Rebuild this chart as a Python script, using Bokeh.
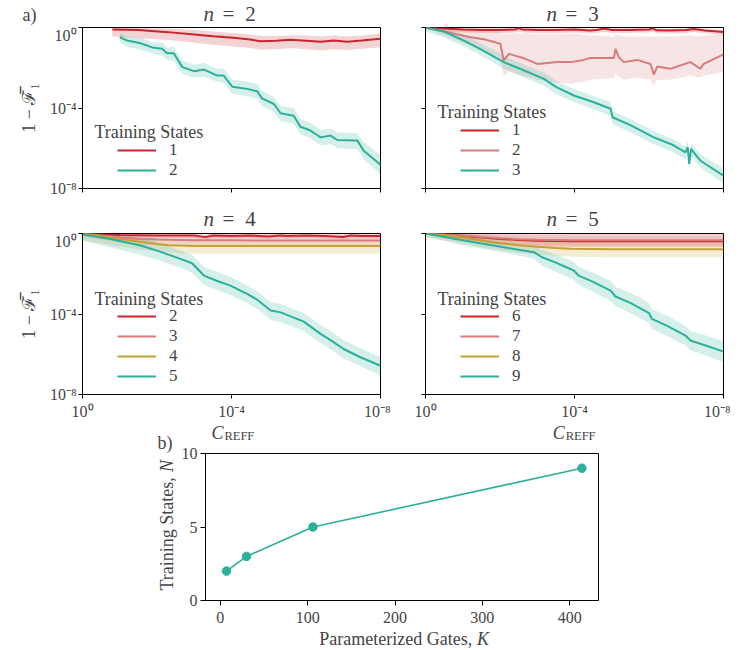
import numpy as np
from bokeh.plotting import figure
from bokeh.models import (Range1d, FixedTicker, CustomJSTickFormatter, Label,
                          Legend, LegendItem)
from bokeh.layouts import column, row
from bokeh.embed import file_html
from bokeh.resources import INLINE

FONT = "Liberation Serif"
RED = "#c9252c"
PINK = "#d77c7d"
GOLD = "#c89f33"
TEAL = "#2bb19a"

# ---------------- data (log10 of C_REFF and of 1 - F) ----------------
# n = 2
n2_s1_x = [-0.8, -1.5, -2.3, -3.0, -3.5, -4.05, -4.5, -4.78, -5.2, -5.58, -6.0, -6.4, -6.74, -7.1, -7.5, -8.0]
n2_s1_y = [-0.10, -0.13, -0.23, -0.35, -0.44, -0.51, -0.60, -0.68, -0.66, -0.61, -0.66, -0.71, -0.65, -0.71, -0.65, -0.56]
n2_s1_lo = [-0.45, -0.52, -0.62, -0.76, -0.86, -0.94, -1.02, -1.10, -1.08, -1.02, -1.08, -1.14, -1.08, -1.12, -1.06, -0.98]
n2_s1_hi = [0.0, -0.02, -0.05, -0.12, -0.20, -0.27, -0.35, -0.42, -0.42, -0.38, -0.40, -0.45, -0.40, -0.45, -0.40, -0.30]

n2_s2_x = [-1.0, -1.2, -1.56, -1.91, -2.14, -2.27, -2.45, -2.68, -2.99, -3.26, -3.62, -3.79, -4.02, -4.42,
           -4.69, -4.82, -5.14, -5.32, -5.67, -5.85, -6.12, -6.26, -6.39, -6.66, -6.84, -7.38, -7.55, -8.0]
n2_s2_y = [-0.48, -0.65, -0.78, -1.01, -1.06, -1.28, -1.28, -1.97, -2.17, -2.09, -2.39, -2.39, -2.94, -3.05,
           -3.17, -3.52, -3.80, -4.26, -4.38, -4.93, -5.12, -5.29, -5.46, -5.37, -5.59, -5.62, -6.12, -6.82]
n2_s2_lo = [-0.75, -0.95, -1.1, -1.3, -1.4, -1.6, -1.65, -2.3, -2.5, -2.45, -2.7, -2.75, -3.3, -3.4,
            -3.55, -3.9, -4.2, -4.65, -4.8, -5.3, -5.5, -5.7, -5.85, -5.8, -6.0, -6.05, -6.55, -7.3]
n2_s2_hi = [-0.3, -0.45, -0.5, -0.75, -0.75, -1.0, -0.95, -1.65, -1.85, -1.75, -2.05, -2.05, -2.6, -2.7,
            -2.8, -3.15, -3.45, -3.9, -4.0, -4.55, -4.75, -4.9, -5.1, -5.0, -5.2, -5.25, -5.7, -6.35]

# n = 3
n3_s1_x = [0, -0.5, -1.0, -1.5, -2.0, -2.4, -2.5, -2.6, -3.0, -3.5, -4.0, -4.4, -4.6, -4.8, -5.0, -5.5,
           -6.0, -6.1, -6.2, -6.5, -7.0, -7.2, -7.5, -8.0]
n3_s1_y = [0, -0.05, -0.10, -0.12, -0.12, -0.10, -0.03, -0.10, -0.12, -0.12, -0.10, -0.15, -0.12, -0.05,
           -0.12, -0.12, -0.10, -0.04, -0.14, -0.15, -0.12, -0.07, -0.15, -0.22]
n3_s1_lo = [0, -0.18, -0.25, -0.27, -0.27, -0.25, -0.2, -0.25, -0.27, -0.27, -0.25, -0.3, -0.27, -0.22,
            -0.27, -0.27, -0.25, -0.2, -0.29, -0.3, -0.27, -0.22, -0.3, -0.36]
n3_s1_hi = [0, 0, 0, -0.03, -0.04, -0.02, 0, -0.02, -0.04, -0.04, -0.02, -0.06, -0.04, 0,
            -0.04, -0.04, -0.02, 0, -0.05, -0.06, -0.04, 0, -0.06, -0.12]

n3_s2_x = [0, -0.5, -1.21, -1.6, -2.01, -2.1, -2.24, -2.6, -3.0, -3.54, -3.9, -4.25, -4.43, -5.06, -5.1,
           -5.19, -5.32, -5.68, -6.04, -6.13, -6.22, -6.58, -7.11, -7.38, -7.47, -8.0]
n3_s2_y = [0, -0.2, -0.48, -0.6, -0.81, -1.64, -1.31, -1.5, -1.81, -1.72, -1.72, -1.61, -1.51, -1.51, -1.06,
           -1.47, -1.72, -1.61, -1.81, -2.34, -1.94, -2.05, -1.72, -2.05, -1.81, -1.34]
n3_s2_lo = [0, -0.4, -0.9, -1.2, -1.5, -2.4, -2.2, -2.4, -2.6, -2.75, -2.8, -2.7, -2.6, -2.5, -2.3,
            -2.45, -2.6, -2.5, -2.6, -2.9, -2.6, -2.6, -2.4, -2.5, -2.4, -2.2]
n3_s2_hi = [0, -0.05, -0.1, -0.15, -0.2, -0.3, -0.3, -0.3, -0.3, -0.3, -0.3, -0.35, -0.4, -0.45, -0.3,
            -0.4, -0.45, -0.45, -0.45, -0.45, -0.45, -0.45, -0.4, -0.45, -0.4, -0.3]

n3_s3_x = [0, -0.5, -1.03, -1.5, -2.1, -2.6, -3.18, -3.5, -3.98, -4.5, -4.97, -5.02, -5.5, -6.13, -6.6,
           -6.98, -7.04, -7.08, -7.13, -7.2, -7.38, -8.0]
n3_s3_y = [0, -0.2, -0.65, -1.1, -1.72, -2.1, -2.55, -2.95, -3.38, -3.7, -4.04, -4.46, -4.85, -5.46, -5.8,
           -6.2, -5.95, -6.78, -6.03, -6.2, -6.62, -7.36]
n3_s3_lo = [-0.2, -0.5, -0.95, -1.4, -2.05, -2.45, -2.9, -3.3, -3.7, -4.05, -4.4, -4.8, -5.2, -5.8, -6.15,
            -6.55, -6.3, -7.1, -6.4, -6.55, -6.95, -7.75]
n3_s3_hi = [0, 0, -0.35, -0.8, -1.4, -1.8, -2.25, -2.65, -3.05, -3.4, -3.7, -4.15, -4.55, -5.15, -5.5,
            -5.9, -5.65, -6.45, -5.7, -5.9, -6.3, -7.0]

# n = 4
n4_s1_x = [0, -1, -2, -3, -3.3, -3.5, -4, -4.5, -5, -5.3, -5.5, -6, -6.5, -7, -7.2, -7.5, -8]
n4_s1_y = [0, -0.08, -0.1, -0.1, -0.18, -0.1, -0.12, -0.1, -0.15, -0.1, -0.12, -0.1, -0.12, -0.17, -0.1, -0.12, -0.12]
n4_s1_lo = [-0.1, -0.23, -0.25, -0.25, -0.33, -0.25, -0.27, -0.25, -0.3, -0.25, -0.27, -0.25, -0.27, -0.32, -0.25, -0.27, -0.27]
n4_s1_hi = [0, 0, 0, 0, -0.06, 0, 0, 0, -0.03, 0, 0, 0, 0, -0.05, 0, 0, 0]

n4_s2_x = [0, -0.5, -1, -1.5, -2, -3, -4, -5, -6, -7, -8]
n4_s2_y = [0, -0.1, -0.2, -0.27, -0.3, -0.33, -0.34, -0.35, -0.35, -0.35, -0.35]
n4_s2_lo = [-0.15, -0.3, -0.45, -0.55, -0.6, -0.62, -0.63, -0.64, -0.64, -0.64, -0.64]
n4_s2_hi = [0, 0, -0.05, -0.1, -0.12, -0.14, -0.15, -0.15, -0.15, -0.15, -0.15]

n4_s3_x = [0, -0.5, -1, -1.5, -2.0, -2.3, -2.6, -3, -4, -5, -6, -7, -8]
n4_s3_y = [0, -0.12, -0.27, -0.4, -0.52, -0.58, -0.6, -0.62, -0.62, -0.62, -0.62, -0.62, -0.62]
n4_s3_lo = [-0.35, -0.5, -0.65, -0.8, -0.9, -0.95, -0.98, -1.0, -1.0, -1.0, -1.0, -1.0, -1.0]
n4_s3_hi = [0, 0, -0.05, -0.15, -0.25, -0.3, -0.32, -0.35, -0.35, -0.35, -0.35, -0.35, -0.35]

n4_s4_x = [0, -0.75, -1.56, -2.0, -2.63, -2.94, -3.26, -3.6, -3.97, -4.42, -4.7, -5.05, -5.32, -5.94,
           -6.39, -6.7, -7.01, -7.46, -8.0]
n4_s4_y = [-0.05, -0.27, -0.6, -0.85, -1.26, -1.48, -2.09, -2.35, -2.59, -3.0, -3.3, -3.83, -3.92, -4.38,
           -4.99, -5.35, -5.74, -6.15, -6.57]
n4_s4_lo = [-0.35, -0.7, -1.05, -1.3, -1.7, -1.95, -2.55, -2.8, -3.05, -3.45, -3.75, -4.3, -4.4, -4.85,
            -5.45, -5.8, -6.2, -6.6, -7.05]
n4_s4_hi = [0, 0, -0.2, -0.45, -0.85, -1.05, -1.65, -1.9, -2.15, -2.6, -2.9, -3.4, -3.5, -3.95,
            -4.55, -4.9, -5.3, -5.7, -6.15]

# n = 5
n5_s1_x = [0, -0.5, -1, -1.5, -2, -2.5, -3, -4, -5, -6, -7, -8]
n5_s1_y = [0, -0.05, -0.12, -0.2, -0.27, -0.32, -0.36, -0.38, -0.38, -0.38, -0.38, -0.38]
n5_s1_lo = [0, -0.2, -0.35, -0.45, -0.55, -0.6, -0.65, -0.67, -0.67, -0.67, -0.67, -0.67]
n5_s1_hi = [0, 0, 0, 0, 0, 0, 0, 0, 0, 0, 0, 0]

n5_s2_x = [0, -0.5, -1, -1.5, -2, -2.5, -3, -4, -5, -6, -7, -8]
n5_s2_y = [0, -0.04, -0.1, -0.17, -0.23, -0.28, -0.31, -0.33, -0.33, -0.33, -0.33, -0.33]
n5_s2_lo = [0, -0.15, -0.3, -0.4, -0.5, -0.55, -0.58, -0.6, -0.6, -0.6, -0.6, -0.6]
n5_s2_hi = [0, 0, 0, -0.02, -0.05, -0.08, -0.1, -0.1, -0.1, -0.1, -0.1, -0.1]

n5_s3_x = [0, -0.5, -1, -1.5, -2, -2.5, -3, -3.5, -3.9, -5, -6, -7, -8]
n5_s3_y = [0, -0.08, -0.2, -0.35, -0.48, -0.58, -0.66, -0.72, -0.76, -0.78, -0.78, -0.78, -0.78]
n5_s3_lo = [-0.2, -0.35, -0.5, -0.7, -0.85, -0.95, -1.05, -1.1, -1.15, -1.18, -1.18, -1.18, -1.18]
n5_s3_hi = [0, 0, 0, -0.05, -0.15, -0.25, -0.32, -0.38, -0.42, -0.44, -0.44, -0.44, -0.44]

n5_s4_x = [0, -1.03, -2.1, -2.91, -3.13, -3.5, -3.98, -4.11, -4.5, -4.97, -5.1, -5.5, -6.0, -6.08, -6.5,
           -6.98, -7.11, -7.5, -8.0]
n5_s4_y = [0, -0.35, -0.68, -0.93, -1.18, -1.45, -1.84, -2.09, -2.4, -2.84, -3.13, -3.45, -3.96, -4.24, -4.6,
           -5.07, -5.32, -5.55, -5.87]
n5_s4_lo = [-0.15, -0.6, -0.95, -1.25, -1.6, -1.9, -2.3, -2.55, -2.9, -3.35, -3.6, -3.95, -4.45, -4.75, -5.1,
            -5.55, -5.8, -6.05, -6.4]
n5_s4_hi = [0, -0.15, -0.45, -0.65, -0.8, -1.05, -1.4, -1.65, -1.95, -2.35, -2.65, -2.95, -3.45, -3.75, -4.1,
            -4.6, -4.85, -5.05, -5.35]

# panel b
gates_K = [7, 30, 106, 414]
states_N = [2, 3, 5, 9]

log_ticks = [1e-8, 1e-4, 1.0]
gate_ticks = [0, 100, 200, 300, 400]
state_ticks = [0, 5, 10]

PANELS = [
    ("2", [("1", RED, n2_s1_x, n2_s1_y, n2_s1_lo, n2_s1_hi),
           ("2", TEAL, n2_s2_x, n2_s2_y, n2_s2_lo, n2_s2_hi)]),
    ("3", [("1", RED, n3_s1_x, n3_s1_y, n3_s1_lo, n3_s1_hi),
           ("2", PINK, n3_s2_x, n3_s2_y, n3_s2_lo, n3_s2_hi),
           ("3", TEAL, n3_s3_x, n3_s3_y, n3_s3_lo, n3_s3_hi)]),
    ("4", [("2", RED, n4_s1_x, n4_s1_y, n4_s1_lo, n4_s1_hi),
           ("3", PINK, n4_s2_x, n4_s2_y, n4_s2_lo, n4_s2_hi),
           ("4", GOLD, n4_s3_x, n4_s3_y, n4_s3_lo, n4_s3_hi),
           ("5", TEAL, n4_s4_x, n4_s4_y, n4_s4_lo, n4_s4_hi)]),
    ("5", [("6", RED, n5_s1_x, n5_s1_y, n5_s1_lo, n5_s1_hi),
           ("7", PINK, n5_s2_x, n5_s2_y, n5_s2_lo, n5_s2_hi),
           ("8", GOLD, n5_s3_x, n5_s3_y, n5_s3_lo, n5_s3_hi),
           ("9", TEAL, n5_s4_x, n5_s4_y, n5_s4_lo, n5_s4_hi)]),
]

SUP_JS = """
const sup = {"0":"\u2070","1":"\u00b9","2":"\u00b2","3":"\u00b3","4":"\u2074","5":"\u2075",
             "6":"\u2076","7":"\u2077","8":"\u2078","9":"\u2079","-":"\u207b"};
const e = Math.round(Math.log10(tick));
return "10" + String(e).split("").map(c => sup[c]).join("");
"""
EMPTY_JS = "return '';"

TICK_PX = "16px"
LABEL_PX = "18px"
LEGEND_PX = "17px"
TITLE_PX = "21px"
PITCH = 19.5


def style_axis(ax, ticks, show_labels, standoff):
    ax.ticker = FixedTicker(ticks=ticks, minor_ticks=[])
    ax.major_tick_out = 4
    ax.major_tick_in = 0
    ax.minor_tick_out = 0
    ax.minor_tick_in = 0
    ax.axis_line_color = "black"
    ax.major_tick_line_color = "black"
    ax.major_label_text_font = FONT
    ax.major_label_standoff = standoff
    ax.axis_label_text_font = FONT
    ax.axis_label_text_font_style = "normal"
    ax.axis_label_text_font_size = LABEL_PX
    ax.major_label_text_font_size = TICK_PX if show_labels else "0px"


def make_panel(idx, series, width, height, left, right, top, bottom):
    show_x = idx >= 2
    show_y = idx % 2 == 0
    p = figure(width=width, height=height, x_axis_type="log", y_axis_type="log",
               x_range=Range1d(1.0, 1e-8), y_range=Range1d(1e-8, 1.0),
               output_backend="svg", toolbar_location=None,
               min_border_left=left, min_border_right=right,
               min_border_top=top, min_border_bottom=bottom)
    p.grid.visible = False
    p.outline_line_color = "black"
    p.outline_line_width = 1
    style_axis(p.xaxis[0], log_ticks, show_x, 4)
    style_axis(p.yaxis[0], log_ticks, show_y, 2)
    p.xaxis[0].formatter = CustomJSTickFormatter(code=SUP_JS if show_x else EMPTY_JS)
    p.yaxis[0].formatter = CustomJSTickFormatter(code=SUP_JS if show_y else EMPTY_JS)
    if show_y:
        p.yaxis[0].axis_label = "1 \u2212 \u2131\u0305\u2081"
        p.yaxis[0].axis_label_standoff = 8

    for (lab, col, xs, ys, lo, hi) in series:
        p.varea(x=10.0 ** np.array(xs), y1=10.0 ** np.array(lo), y2=10.0 ** np.array(hi),
                fill_color=col, fill_alpha=0.2)
    items = []
    for (lab, col, xs, ys, lo, hi) in series:
        r = p.line(10.0 ** np.array(xs), 10.0 ** np.array(ys), line_color=col, line_width=2)
        items.append(LegendItem(label=lab, renderers=[r]))

    leg = Legend(items=items, location=(35, 8), padding=0, margin=0, spacing=0,
                 glyph_width=39, glyph_height=18, label_height=18, label_standoff=13,
                 label_text_font=FONT, label_text_font_size=LEGEND_PX,
                 background_fill_alpha=0, border_line_alpha=0)
    p.add_layout(leg)
    n_items = len(series)
    p.add_layout(Label(x=1.0, y=1e-8, x_offset=12,
                       y_offset=8 + PITCH / 2 + PITCH * (n_items - 1) + 19.5,
                       text="Training States", text_baseline="middle",
                       text_font=FONT, text_font_size=LABEL_PX))
    return p


def strip(width, height, left=0, right=0):
    s = figure(width=width, height=height,
               x_range=Range1d(0, width - left - right), y_range=Range1d(0, height),
               x_axis_location=None, y_axis_location=None, min_border=0,
               min_border_left=left, min_border_right=right,
               output_backend="svg", toolbar_location=None)
    s.grid.visible = False
    s.outline_line_color = None
    return s


def add_text(s, x, y, txt, size=LABEL_PX, style="normal", align="left", angle=0.0):
    s.add_layout(Label(x=x, y=y, text=txt, text_align=align, text_baseline="middle",
                       text_font=FONT, text_font_size=size, text_font_style=style, angle=angle))


def add_title(s, center, y, digit):
    add_text(s, center - 22.7, y, "n", TITLE_PX, "italic", "center")
    add_text(s, center - 3.2, y, "=", TITLE_PX, "normal", "center")
    add_text(s, center + 19, y, digit, TITLE_PX, "normal", "center")


FRAME_W, FRAME_H = 298, 161
C_LEFT = 82 + FRAME_W / 2     # centre of left column frames
C_RIGHT = 425 + FRAME_W / 2   # centre of right column frames
L_W = 178                     # width of the strip left of panel b
B_LEFT, B_FRAME, B_RIGHT = 25, 395, 10
B_X0 = L_W + B_LEFT           # page x of panel b frame left edge

# top strip: "a)" and titles of the first row
t1 = strip(730, 26)
add_text(t1, 22, 12, "a)")
add_title(t1, C_LEFT, 13, PANELS[0][0])
add_title(t1, C_RIGHT, 13, PANELS[1][0])

p1 = make_panel(0, PANELS[0][1], width=82 + FRAME_W + 10, height=1 + FRAME_H + 10,
                left=82, right=10, top=1, bottom=10)
p2 = make_panel(1, PANELS[1][1], width=35 + FRAME_W + 7, height=1 + FRAME_H + 10,
                left=35, right=7, top=1, bottom=10)

# middle strip: titles of the second row
t2 = strip(730, 34)
add_title(t2, C_LEFT, 14, PANELS[2][0])
add_title(t2, C_RIGHT, 14, PANELS[3][0])

p3 = make_panel(2, PANELS[2][1], width=82 + FRAME_W + 10, height=1 + FRAME_H + 28,
                left=82, right=10, top=1, bottom=28)
p4 = make_panel(3, PANELS[3][1], width=35 + FRAME_W + 7, height=1 + FRAME_H + 28,
                left=35, right=7, top=1, bottom=28)

# strip with the C_REFF axis labels (right of the "b)" column), frame aligned with panel b
m = strip(B_LEFT + B_FRAME + B_RIGHT, 22, B_LEFT, B_RIGHT)
for c in (C_LEFT, C_RIGHT):
    add_text(m, c - 16 - B_X0, 12, "C", "18px", "italic", "center")
    add_text(m, c - 9 - B_X0, 8.7, "REFF", "12.5px")

# panel b
p5 = figure(width=B_LEFT + B_FRAME + B_RIGHT, height=9 + 147 + 30,
            x_range=Range1d(-17, 433), y_range=Range1d(0, 10),
            output_backend="svg", toolbar_location=None,
            min_border_left=B_LEFT, min_border_right=B_RIGHT, min_border_top=9, min_border_bottom=30)
p5.grid.visible = False
p5.outline_line_color = "black"
style_axis(p5.xaxis[0], gate_ticks, True, 6)
style_axis(p5.yaxis[0], state_ticks, True, 3)
p5.xaxis[0].major_tick_out = 5
p5.yaxis[0].major_tick_out = 5
p5.line(gates_K, states_N, line_color=TEAL, line_width=1.6)
p5.scatter(gates_K, states_N, size=8.5, fill_color=TEAL, line_color=TEAL)

b_strip = strip(B_LEFT + B_FRAME + B_RIGHT, 18, B_LEFT, B_RIGHT)
add_text(b_strip, 471 - B_X0, 10, "Parameterized Gates,", LABEL_PX, "normal", "right")
add_text(b_strip, 476 - B_X0, 10, "K", LABEL_PX, "italic", "left")

# left strip: "b)" and the rotated y label of panel b
l_strip = strip(L_W, 226)
add_text(l_strip, 157, 206, "b)")
l_strip.add_layout(Label(x=166, y=58, text="Training States,", angle=np.pi / 2,
                         text_align="left", text_baseline="middle",
                         text_font=FONT, text_font_size=LABEL_PX))
l_strip.add_layout(Label(x=166, y=176.5, text="N", angle=np.pi / 2, text_font_style="italic",
                         text_align="left", text_baseline="middle",
                         text_font=FONT, text_font_size=LABEL_PX))

layout = column(t1, row(p1, p2), t2, row(p3, p4),
                row(l_strip, column(m, p5, b_strip)))
open("out.html", "w").write(file_html(layout, INLINE))
